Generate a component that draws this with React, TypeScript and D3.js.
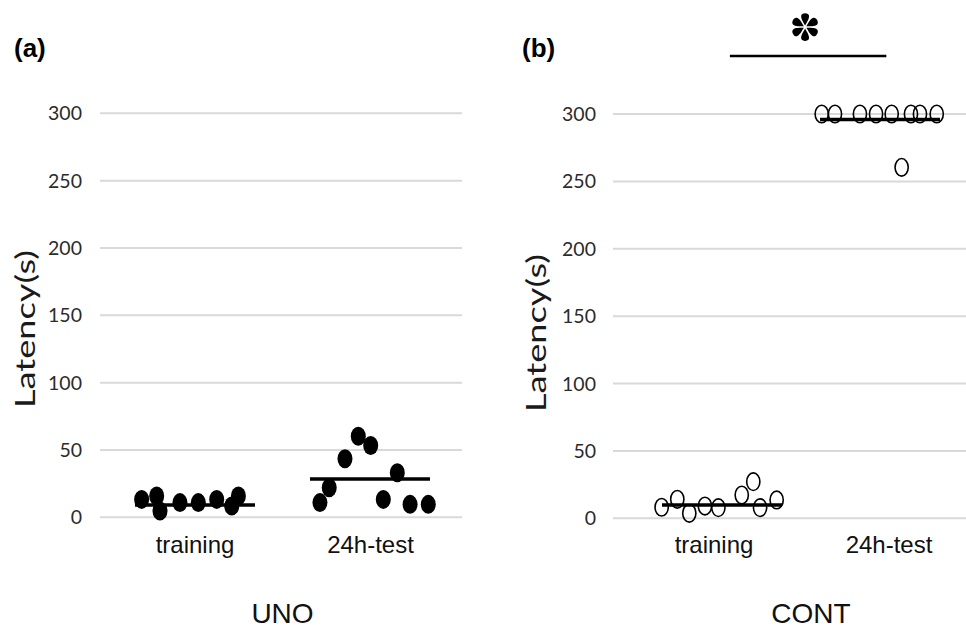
import React from "react";
import * as d3 from "d3";

const categories = ["training", "24h-test"];
const yTicks = [0, 50, 100, 150, 200, 250, 300];

// UNO (filled) — jitter in category units, latency in s
const unoTrainingJitter = [-0.305, -0.219, -0.2, -0.086, 0.019, 0.124, 0.21, 0.248];
const unoTrainingValues = [13.3, 15.8, 4.7, 10.9, 10.9, 13.3, 8.4, 15.8];
const unoTestJitter = [-0.286, -0.233, -0.143, -0.067, 0.004, 0.156, 0.076, 0.229, 0.333];
const unoTestValues = [10.9, 22, 43.5, 60.2, 53.3, 33.1, 13.3, 9.6, 9.6];
const unoMeans = [9.1, 28.4];

// CONT (open)
const contTrainingJitter = [-0.382, -0.283, -0.207, -0.108, -0.023, 0.125, 0.198, 0.241, 0.346];
const contTrainingValues = [8.2, 14.1, 3.7, 9.1, 7.9, 17.3, 27.2, 7.9, 13.6];
const contTestJitter = [-0.369, -0.285, -0.127, -0.025, 0.074, 0.196, 0.253, 0.359, 0.137];
const contTestValues = [300, 300, 300, 300, 300, 300, 300, 300, 260.4];
const contMeans = [9.9, 296];

// significance bracket (category units / latency units)
const sigSpan = [0.05, 1.04];
const sigLevel = 343;
const sigMark = "*";

const panels = [
  {
    key: "a",
    tag: "(a)",
    title: "UNO",
    filled: true,
    groups: [
      { jitter: unoTrainingJitter, values: unoTrainingValues },
      { jitter: unoTestJitter, values: unoTestValues },
    ],
    means: unoMeans,
    layout: {
      gridX: [100, 462], y: [517.3, 113.3], dotX: [195, 370], labelX: [195, 370.5],
      tickRight: 82, yLabelX: 26, yLabelY: 329, tagX: 14, titleX: 282.5,
    },
  },
  {
    key: "b",
    tag: "(b)",
    title: "CONT",
    filled: false,
    groups: [
      { jitter: contTrainingJitter, values: contTrainingValues },
      { jitter: contTestJitter, values: contTestValues },
    ],
    means: contMeans,
    layout: {
      gridX: [613, 980], y: [518.3, 114], dotX: [722, 880], labelX: [714, 889],
      tickRight: 596, yLabelX: 537, yLabelY: 333, tagX: 522, titleX: 811,
    },
  },
];

const tickFont = "Lato, 'Liberation Sans', Arial, sans-serif";
const mainFont = "'Liberation Sans', Arial, Helvetica, sans-serif";

function petalPath() {
  return "M0,-1.5 C-1.5,-4.5 -4.6,-8.5 -3.8,-11.8 C-3,-14.6 3,-14.6 3.8,-11.8 C4.6,-8.5 1.5,-4.5 0,-1.5 Z";
}

function Panel({ p }: { p: any }) {
  const L = p.layout;
  const y = d3.scaleLinear().domain([0, 300]).range(L.y);
  const xDot = d3.scaleLinear().domain([0, 1]).range(L.dotX);
  const xLabel = d3.scalePoint<string>().domain(categories).range(L.labelX).padding(0);
  const halfMean = 60;
  return (
    <g>
      {yTicks.map((t) => (
        <g key={t}>
          <line x1={L.gridX[0]} x2={L.gridX[1]} y1={y(t)} y2={y(t)} stroke="#d9d9d9" strokeWidth={2} />
          <text x={L.tickRight} y={y(t)} dy="0.36em" textAnchor="end" fontFamily={tickFont} fontSize={19.5} fill="#2b2b2b">
            {t}
          </text>
        </g>
      ))}
      <text
        transform={`translate(${L.yLabelX},${L.yLabelY}) rotate(-90)`}
        textAnchor="middle"
        dy="0.35em"
        fontFamily={tickFont}
        fontSize={27}
        fill="#1a1a1a"
        textLength={158}
        lengthAdjust="spacingAndGlyphs"
      >
        Latency(s)
      </text>
      {p.groups.map((g: any, gi: number) =>
        g.values.map((v: number, i: number) => (
          <ellipse
            key={`${gi}-${i}`}
            cx={xDot(gi + g.jitter[i])}
            cy={y(v)}
            rx={p.filled ? 7.5 : 6.6}
            ry={p.filled ? 9.5 : 8.8}
            fill={p.filled ? "#000" : "none"}
            stroke="#000"
            strokeWidth={p.filled ? 0 : 1.6}
          />
        ))
      )}
      {p.means.map((m: number, gi: number) => (
        <line key={gi} x1={xDot(gi) - halfMean} x2={xDot(gi) + halfMean} y1={y(m)} y2={y(m)} stroke="#000" strokeWidth={3.5} />
      ))}
      {categories.map((c) => (
        <text key={c} x={xLabel(c)} y={553} textAnchor="middle" fontFamily={mainFont} fontSize={24} fill="#111">
          {c}
        </text>
      ))}
      <text x={L.titleX} y={623} textAnchor="middle" fontFamily={mainFont} fontSize={28} fill="#111">
        {p.title}
      </text>
      <text x={L.tagX} y={57} fontFamily={mainFont} fontWeight="bold" fontSize={26} fill="#000">
        {p.tag}
      </text>
    </g>
  );
}

export default function App() {
  const contY = d3.scaleLinear().domain([0, 300]).range([518.3, 114]);
  const contX = d3.scaleLinear().domain([0, 1]).range([722, 880]);
  const sigY = contY(sigLevel);
  const starX = (contX(sigSpan[0]) + contX(sigSpan[1])) / 2;
  return (
    <svg width={966} height={629} style={{ position: "absolute", left: 0, top: 0, background: "#fff" }}>
      <rect width={966} height={629} fill="#fff" />
      {panels.map((p) => (
        <Panel key={p.key} p={p} />
      ))}
      <line x1={contX(sigSpan[0])} x2={contX(sigSpan[1])} y1={sigY} y2={sigY} stroke="#000" strokeWidth={2.5} />
      <g transform={`translate(${starX - 3},${sigY - 29})`} aria-label={sigMark}>
        {[0, 60, 120, 180, 240, 300].map((a) => (
          <path key={a} d={petalPath()} transform={`rotate(${a})`} fill="#000" />
        ))}
      </g>
    </svg>
  );
}
